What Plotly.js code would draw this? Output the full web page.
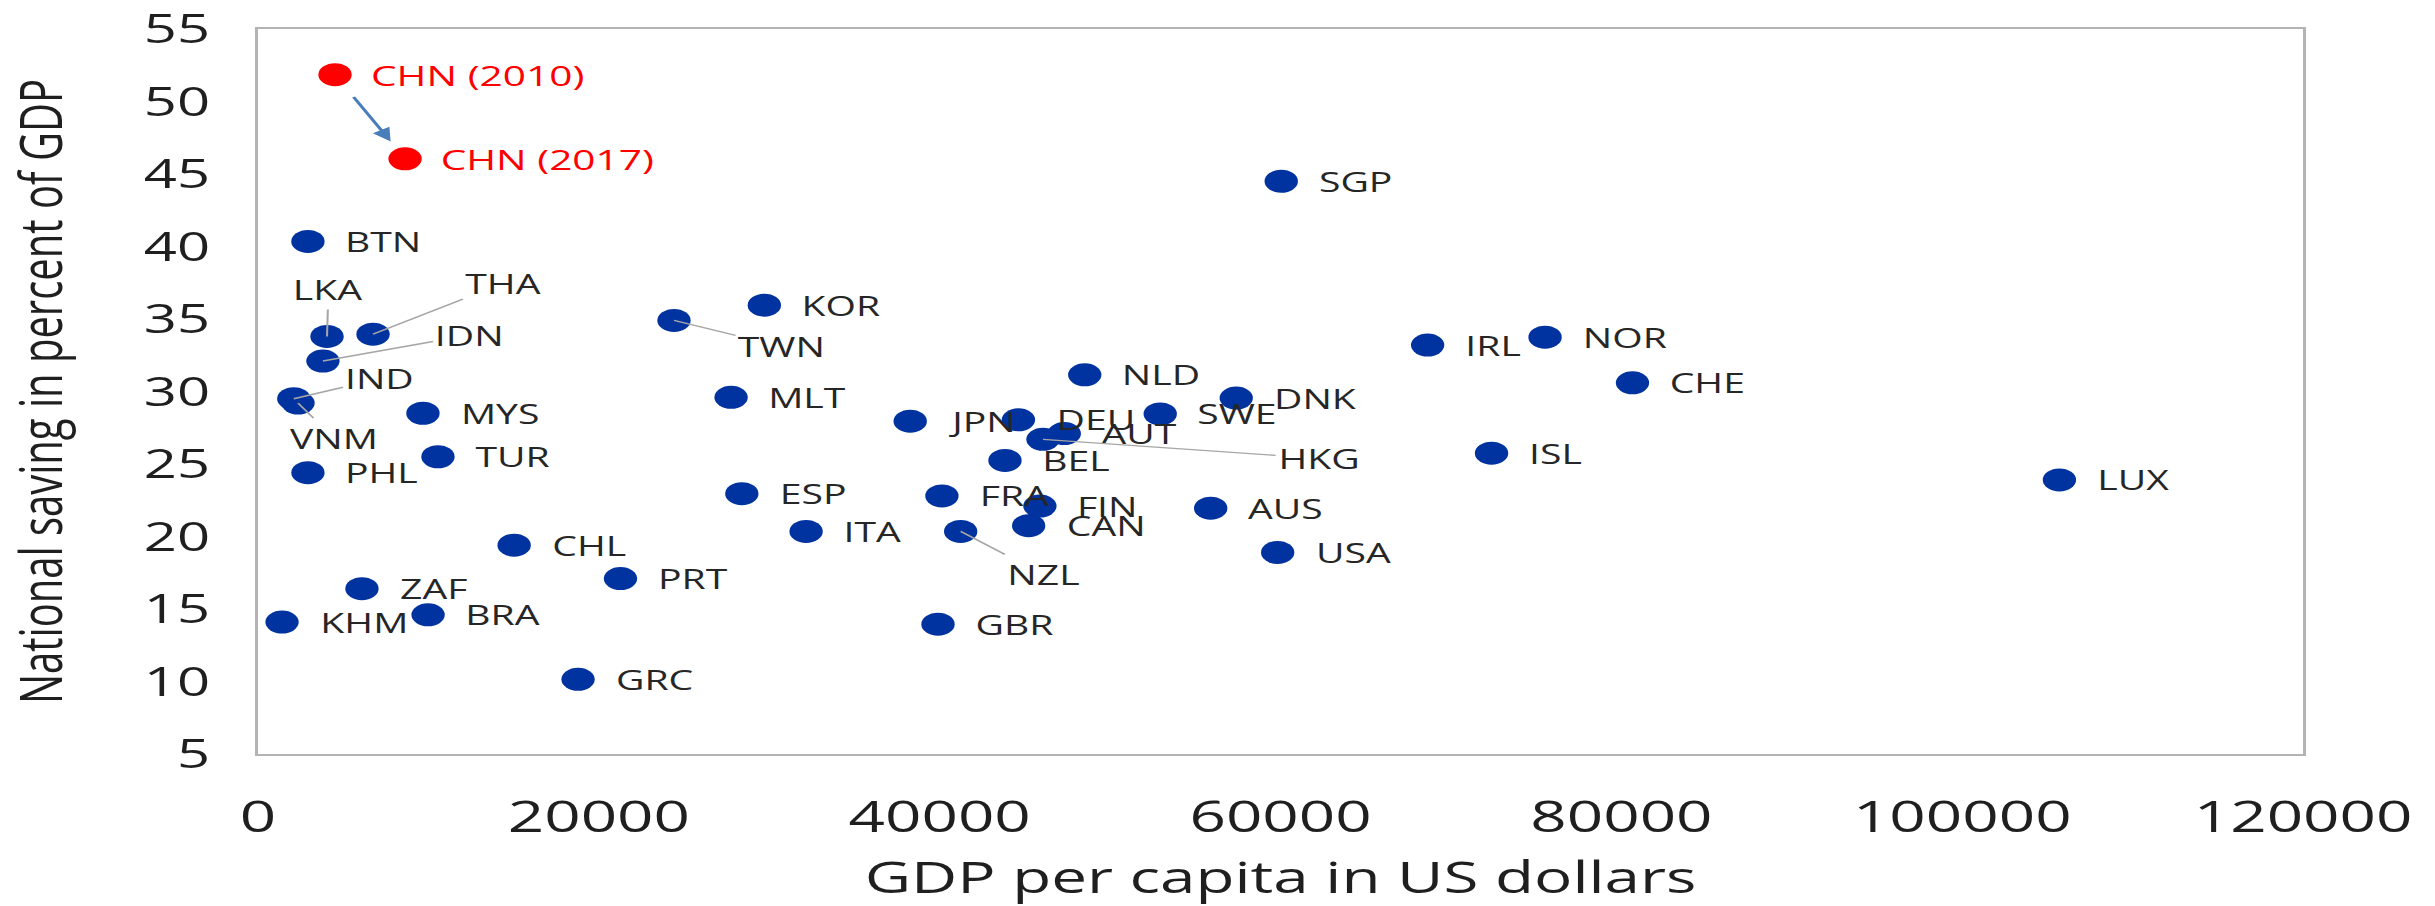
<!DOCTYPE html>
<html>
<head>
<meta charset="utf-8">
<script src="https://cdn.plot.ly/plotly-3.0.1.min.js"></script>
<style>
html, body { margin: 0; padding: 0; background: #ffffff; overflow: hidden; }
#wrap { width: 2435px; height: 906px; overflow: hidden; }
#chart { width: 1680px; height: 906px; transform: scaleX(1.449405); transform-origin: 0 0; }
</style>
</head>
<body>
<div id="wrap"><div id="chart"></div></div>
<script>
// ---- data ----
const countries = ['BTN','LKA','THA','IDN','IND','VNM','MYS','TUR','PHL','ZAF','KHM','BRA','GRC','CHL','PRT','GBR',
  'TWN','KOR','MLT','NLD','DNK','SWE','JPN','DEU','AUT','HKG','BEL','ESP','FRA','FIN','AUS','CAN','ITA','NZL','USA',
  'SGP','IRL','NOR','CHE','ISL','LUX'];
const gdpPerCapita = [2930, 4050, 6750, 3810, 2100, 2350, 9680, 10560, 2930, 6100, 1410, 9980, 18780, 15030, 21270, 39900,
  24410, 29710, 27760, 48510, 57400, 52940, 38270, 44620, 47310, 46060, 43830, 28390, 40130, 45880, 55900, 45220, 32160, 41230, 59830,
  60040, 68630, 75520, 80650, 72380, 105700];
const savingRate = [40.35, 33.8, 33.95, 32.1, 29.5, 29.2, 28.5, 25.5, 24.4, 16.4, 14.1, 14.6, 10.15, 19.4, 17.1, 13.95,
  34.9, 35.95, 29.6, 31.15, 29.55, 28.45, 27.95, 28.05, 27.1, 26.7, 25.25, 22.95, 22.8, 22.1, 21.95, 20.75, 20.35, 20.35, 18.9,
  44.5, 33.2, 33.75, 30.6, 25.75, 23.9];

const chnLabels = ['CHN (2010)', 'CHN (2017)'];
const chnGdp = [4520, 8630];
const chnSaving = [51.85, 46.05];

const xTickVals = [0, 20000, 40000, 60000, 80000, 100000, 120000];
const yTickVals = [5, 10, 15, 20, 25, 30, 35, 40, 45, 50, 55];

// ---- label placement (styling only: pixel offsets of leader-line labels) ----
const leaderOffsets = {
  LKA: [1, -47], THA: [90, -51], IDN: [101, -26], IND: [59, -20], VNM: [25, 35],
  TWN: [74, 26], HKG: [190, 19], NZL: [57, 43]
};

const FONT = 'Open Sans, Noto Sans, DejaVu Sans, sans-serif';
const labelFont = { family: FONT, size: 27, color: '#262626' };
const redFont = { family: FONT, size: 28, color: '#ff0000' };

const annotations = [];
countries.forEach((c, i) => {
  const lead = leaderOffsets[c];
  if (lead) {
    annotations.push({
      x: gdpPerCapita[i], y: savingRate[i], xref: 'x', yref: 'y', text: c,
      showarrow: true, arrowhead: 0, arrowwidth: 1.4, arrowcolor: '#a6a6a6',
      ax: lead[0], ay: lead[1], standoff: 0, font: labelFont
    });
  } else {
    annotations.push({
      x: gdpPerCapita[i], y: savingRate[i], xref: 'x', yref: 'y', text: c,
      showarrow: false, xanchor: 'left', yanchor: 'middle', xshift: 24, font: labelFont
    });
  }
});
chnLabels.forEach((c, i) => {
  annotations.push({
    x: chnGdp[i], y: chnSaving[i], xref: 'x', yref: 'y', text: c,
    showarrow: false, xanchor: 'left', yanchor: 'middle', xshift: 23, font: redFont
  });
});
// arrow from CHN (2010) to CHN (2017)
annotations.push({
  x: chnGdp[1], y: chnSaving[1], xref: 'x', yref: 'y',
  ax: chnGdp[0], ay: chnSaving[0], axref: 'x', ayref: 'y',
  text: '', showarrow: true, arrowhead: 2, arrowsize: 1.1, arrowwidth: 2.4,
  arrowcolor: '#4a7ebb', standoff: 20, startstandoff: 24
});

const traces = [
  {
    type: 'scatter', mode: 'markers', x: gdpPerCapita, y: savingRate, text: countries,
    marker: { color: '#0033a0', size: 23, line: { width: 0 } }, hoverinfo: 'text'
  },
  {
    type: 'scatter', mode: 'markers', x: chnGdp, y: chnSaving, text: chnLabels,
    marker: { color: '#ff0000', size: 23, line: { width: 0 } }, hoverinfo: 'text'
  }
];

const layout = {
  width: 1680, height: 906,
  margin: { l: 178, r: 91, t: 29, b: 152 },
  paper_bgcolor: '#ffffff', plot_bgcolor: '#ffffff',
  showlegend: false,
  font: { family: FONT, color: '#1f1f1f' },
  xaxis: {
    range: [0, 120000], tickvals: xTickVals, ticktext: xTickVals.map(String),
    showgrid: false, zeroline: false, ticks: '',
    showline: true, mirror: true, linecolor: '#b3b3b3', linewidth: 2,
    tickfont: { family: FONT, size: 44, color: '#1f1f1f' },
    ticklabelstandoff: 23, ticklabeloverflow: 'allow',
    title: { text: 'GDP per capita in US dollars', font: { family: FONT, size: 44, color: '#1f1f1f' }, standoff: 29 },
    automargin: false
  },
  yaxis: {
    range: [5, 55], tickvals: yTickVals, ticktext: yTickVals.map(String),
    showgrid: false, zeroline: false, ticks: '',
    showline: true, mirror: true, linecolor: '#b3b3b3', linewidth: 2,
    tickfont: { family: FONT, size: 40, color: '#1f1f1f' },
    ticklabelstandoff: 23, ticklabeloverflow: 'allow',
    title: { text: 'National saving in percent of GDP', font: { family: FONT, size: 40, color: '#1f1f1f' }, standoff: 51 },
    automargin: false
  },
  annotations: annotations
};

Plotly.newPlot('chart', traces, layout, { displayModeBar: false, staticPlot: true });
</script>
</body>
</html>
